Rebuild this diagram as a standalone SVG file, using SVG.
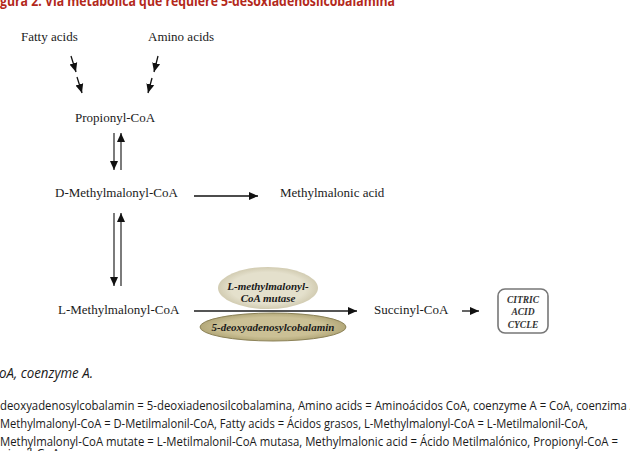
<svg xmlns="http://www.w3.org/2000/svg" width="630" height="451" viewBox="0 0 630 451">
<style>
.lbl{font-family:"Liberation Serif",serif;font-size:13px;fill:#1a1a1a}
.enz{font-family:"Liberation Serif",serif;font-size:11px;font-weight:bold;font-style:italic;fill:#1a1a1a}
.cyc{font-family:"Liberation Serif",serif;font-size:9.5px;font-weight:bold;font-style:italic;fill:#333}
.ln{stroke:#111;stroke-width:1.3;fill:none}
.lg{stroke:#444;stroke-width:1.4;fill:none}
.foot{font-family:"Open Sans","DejaVu Sans",sans-serif;font-size:12.5px;fill:#1a1a1a}
</style>
<defs>
<marker id="ah" markerUnits="userSpaceOnUse" markerWidth="10" markerHeight="10" viewBox="0 0 10 10" refX="9" refY="5" orient="auto">
<path d="M0,1 L9,5 L0,9 Z" fill="#111"/>
</marker>
<radialGradient id="g1" cx="50%" cy="50%" r="50%">
<stop offset="0.75" stop-color="#e4e0cc"/>
<stop offset="1" stop-color="#d2ccb2"/>
</radialGradient>
<radialGradient id="g2" cx="50%" cy="50%" r="50%">
<stop offset="0.7" stop-color="#cbc095"/>
<stop offset="1" stop-color="#b3a879"/>
</radialGradient>
</defs>

<text x="0" y="6" font-family="'Open Sans','DejaVu Sans',sans-serif" font-size="15" font-weight="bold" fill="#b3281b" textLength="395" lengthAdjust="spacingAndGlyphs">gura 2. Vía metabólica que requiere 5-desoxiadenosilcobalamina</text>

<g id="fatty-acids"><text class="lbl" x="21" y="41">Fatty acids</text></g>
<g id="amino-acids"><text class="lbl" x="148" y="41">Amino acids</text></g>
<g id="propionyl-coa"><text class="lbl" x="75" y="122">Propionyl-CoA</text></g>
<g id="d-methylmalonyl-coa"><text class="lbl" x="55" y="197">D-Methylmalonyl-CoA</text></g>
<g id="methylmalonic-acid"><text class="lbl" x="280" y="197">Methylmalonic acid</text></g>
<g id="l-methylmalonyl-coa"><text class="lbl" x="58" y="314">L-Methylmalonyl-CoA</text></g>
<g id="succinyl-coa"><text class="lbl" x="374" y="314">Succinyl-CoA</text></g>
<g id="citric-acid-cycle">
<rect x="498" y="289" width="50" height="44" rx="7" fill="#fff" stroke="#777" stroke-width="1.6"/>
<text class="cyc" x="523" y="303" text-anchor="middle">CITRIC</text>
<text class="cyc" x="523" y="315" text-anchor="middle">ACID</text>
<text class="cyc" x="523" y="328" text-anchor="middle">CYCLE</text>
</g>
<g id="mutase">
<ellipse cx="268" cy="288" rx="50" ry="21" fill="url(#g1)"/>
<text class="enz" x="268" y="290" text-anchor="middle">L-methylmalonyl-</text>
<text class="enz" x="268" y="302" text-anchor="middle">CoA mutase</text>
</g>
<g id="cofactor">
<ellipse cx="273" cy="327" rx="73" ry="14" fill="url(#g2)" stroke="#8c8258" stroke-width="1"/>
<text class="enz" x="273" y="331" text-anchor="middle" font-size="10">5-deoxyadenosylcobalamin</text>
</g>

<g id="connectors">
<line class="ln" x1="71" y1="56" x2="76" y2="72" marker-end="url(#ah)"/>
<line class="ln" x1="77" y1="77" x2="82" y2="93" marker-end="url(#ah)"/>
<line class="ln" x1="158" y1="56" x2="154" y2="72" marker-end="url(#ah)"/>
<line class="ln" x1="152" y1="78" x2="148" y2="93" marker-end="url(#ah)"/>
<line class="lg" x1="114" y1="133" x2="114" y2="170" marker-end="url(#ah)"/>
<line class="lg" x1="121" y1="170" x2="121" y2="133" marker-end="url(#ah)"/>
<line class="lg" x1="114" y1="213" x2="114" y2="286" marker-end="url(#ah)"/>
<line class="lg" x1="121" y1="286" x2="121" y2="213" marker-end="url(#ah)"/>
<line class="ln" x1="194" y1="196" x2="258" y2="196" marker-end="url(#ah)"/>
<line x1="194" y1="311" x2="357" y2="311" stroke="#555" stroke-width="1.8" marker-end="url(#ah)"/>
<line class="ln" x1="462" y1="311" x2="479" y2="311" marker-end="url(#ah)"/>
</g>

<text x="-1" y="378" font-family="'Open Sans','DejaVu Sans',sans-serif" font-size="14" font-style="italic" fill="#1a1a1a" textLength="94" lengthAdjust="spacingAndGlyphs">oA, coenzyme A.</text>
<text class="foot" x="0" y="410" textLength="637" lengthAdjust="spacingAndGlyphs">deoxyadenosylcobalamin = 5-deoxiadenosilcobalamina, Amino acids = Aminoácidos CoA, coenzyme A = CoA, coenzima A</text>
<text class="foot" x="0" y="428" textLength="588" lengthAdjust="spacingAndGlyphs">Methylmalonyl-CoA = D-Metilmalonil-CoA, Fatty acids = Ácidos grasos, L-Methylmalonyl-CoA = L-Metilmalonil-CoA,</text>
<text class="foot" x="0" y="446" textLength="618" lengthAdjust="spacingAndGlyphs">Methylmalonyl-CoA mutate = L-Metilmalonil-CoA mutasa, Methylmalonic acid = Ácido Metilmalónico, Propionyl-CoA =</text>
<text class="foot" x="0" y="458" textLength="60" lengthAdjust="spacingAndGlyphs">pionil-CoA</text>
</svg>
